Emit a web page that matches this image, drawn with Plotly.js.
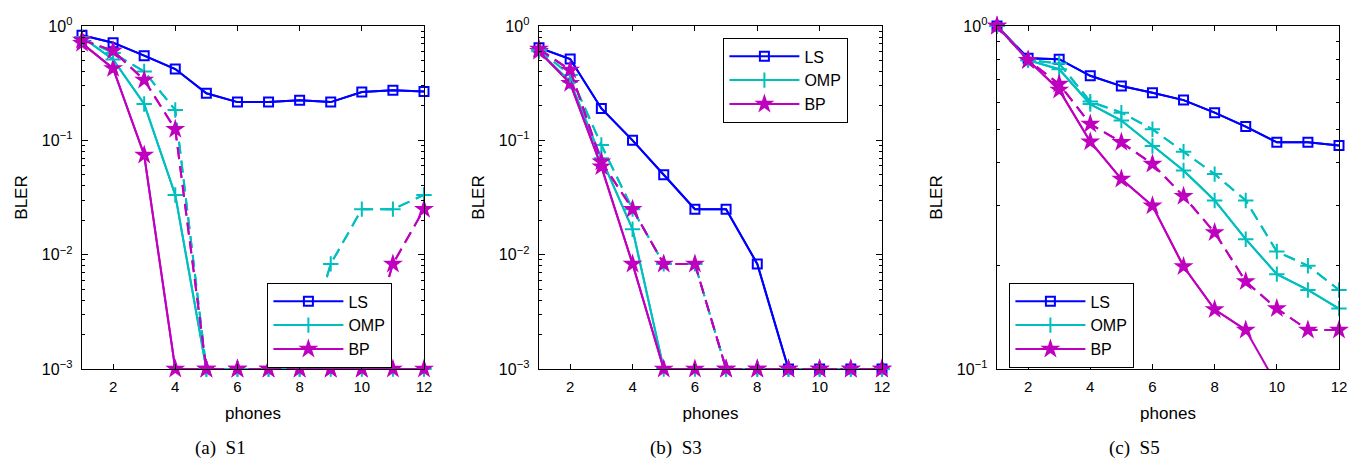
<!DOCTYPE html>
<html>
<head>
<meta charset="utf-8">
<script src="https://cdn.plot.ly/plotly-3.0.1.min.js"></script>
<style>html,body{margin:0;padding:0;background:#fff;}#chart{width:1359px;height:461px;}</style>
</head>
<body>
<div id="chart"></div>
<script>
// ---------- data ----------
const phones = [1, 2, 3, 4, 5, 6, 7, 8, 9, 10, 11, 12];
const xTickVals = [2, 4, 6, 8, 10, 12];
const seriesNames = ['LS', 'OMP', 'BP'];
const captions = ['(a)\u00a0 S1', '(b)\u00a0 S3', '(c)\u00a0 S5'];
const yTickVals = [0.001, 0.01, 0.1, 1];
const yTickText = ['10<sup>\u22123</sup>', '10<sup>\u22122</sup>', '10<sup>\u22121</sup>', '10<sup>0</sup>'];

// S1 (floor value 1e-3 = plotted zero)
const s1_LS   = [0.83, 0.715, 0.55, 0.42, 0.258, 0.216, 0.216, 0.224, 0.216, 0.265, 0.274, 0.267];
const s1_OMP  = [0.80, 0.51, 0.208, 0.0333, 0.001, 0.001, 0.001, 0.001, 0.001, 0.001, 0.001, 0.001];
const s1_BP   = [0.705, 0.426, 0.0744, 0.001, 0.001, 0.001, 0.001, 0.001, 0.001, 0.001, 0.001, 0.001];
const s1_OMPd = [0.78, 0.58, 0.40, 0.184, 0.001, 0.001, 0.001, 0.001, 0.0083, 0.025, 0.025, 0.0333];
const s1_BPd  = [0.755, 0.608, 0.337, 0.125, 0.001, 0.001, 0.001, 0.001, 0.001, 0.001, 0.0083, 0.025];

// S3
const s3_LS   = [0.646, 0.515, 0.19, 0.1, 0.05, 0.025, 0.025, 0.0083, 0.001, 0.001, 0.001, 0.001];
const s3_OMP  = [0.60, 0.326, 0.0696, 0.0167, 0.001, 0.001, 0.001, 0.001, 0.001, 0.001, 0.001, 0.001];
const s3_BP   = [0.60, 0.315, 0.0589, 0.0083, 0.001, 0.001, 0.001, 0.001, 0.001, 0.001, 0.001, 0.001];
const s3_OMPd = [0.62, 0.373, 0.091, 0.025, 0.0083, 0.0083, 0.001, 0.001, 0.001, 0.001, 0.001, 0.001];
const s3_BPd  = [0.63, 0.412, 0.065, 0.025, 0.0083, 0.0083, 0.001, 0.001, 0.001, 0.001, 0.001, 0.001];

// S5
const s5_LS   = [1.0, 0.805, 0.80, 0.716, 0.668, 0.639, 0.608, 0.559, 0.509, 0.458, 0.458, 0.448];
const s5_OMP  = [1.0, 0.795, 0.748, 0.592, 0.53, 0.447, 0.379, 0.31, 0.239, 0.189, 0.17, 0.150];
const s5_BP   = [1.0, 0.795, 0.651, 0.46, 0.358, 0.299, 0.199, 0.149, 0.13, 0.09, 0.075, 0.065];
const s5_OMPd = [1.0, 0.795, 0.778, 0.602, 0.559, 0.50, 0.43, 0.37, 0.31, 0.22, 0.20, 0.17];
const s5_BPd  = [1.0, 0.795, 0.677, 0.518, 0.458, 0.396, 0.319, 0.25, 0.18, 0.150, 0.130, 0.130];

// ---------- styling ----------
const W = 1359, H = 461;
const style = {
  LS:  {color: '#0000FF', symbol: 'square-open', size: 9,  lw: 2},
  OMP: {color: '#00BFBF', symbol: 'cross-thin',  size: 11, lw: 2},
  BP:  {color: '#BF00BF', symbol: 'star',        size: 15, lw: 0}
};
const panels = [
  {solid: [s1_LS, s1_OMP, s1_BP], dashed: {OMP: s1_OMPd, BP: s1_BPd}, yr: [-3, 0], px: [82, 424], leg: [267, 283], cap: 220},
  {solid: [s3_LS, s3_OMP, s3_BP], dashed: {OMP: s3_OMPd, BP: s3_BPd}, yr: [-3, 0], px: [539, 882], leg: [723, 38], cap: 676},
  {solid: [s5_LS, s5_OMP, s5_BP], dashed: {OMP: s5_OMPd, BP: s5_BPd}, yr: [-1, 0], px: [997, 1339], leg: [1009, 283], cap: 1134}
];
const TOP = 26, BOT = 369;
const FONT = 'Liberation Sans, Arial, Helvetica, sans-serif';

const traces = [];
const layout = {
  width: W, height: H,
  margin: {l: 0, r: 0, t: 0, b: 0},
  paper_bgcolor: '#fff', plot_bgcolor: '#fff',
  font: {family: FONT, size: 15, color: '#000'},
  annotations: [],
  showlegend: true
};

function addSeries(p, idx, name, ys, dashed) {
  const ax = idx === 0 ? '' : String(idx + 1);
  const st = style[name];
  const lo = Math.pow(10, p.yr[0]) * 0.999, hi = Math.pow(10, p.yr[1]) * 1.001;
  const inRange = ys.map(v => (v >= lo && v <= hi) ? v : null);
  const line = {color: st.color, width: 2, dash: dashed ? '12px,7px' : 'solid'};
  const common = {x: phones, xaxis: 'x' + ax, yaxis: 'y' + ax, hoverinfo: 'skip'};
  // full line (clipped at axes)
  traces.push(Object.assign({}, common, {y: ys, mode: 'lines', line: line, showlegend: false}));
  // in-range points with markers (not clipped)
  traces.push(Object.assign({}, common, {
    y: inRange, mode: 'lines+markers', name: name, cliponaxis: false,
    line: line, connectgaps: false,
    marker: {symbol: st.symbol, size: st.size, color: st.color,
             line: {color: st.color, width: st.lw}},
    showlegend: !dashed, legend: 'legend' + (idx === 0 ? '' : String(idx + 1))
  }));
}

panels.forEach((p, i) => {
  const ax = i === 0 ? '' : String(i + 1);
  addSeries(p, i, 'LS', p.solid[0], false);
  addSeries(p, i, 'OMP', p.solid[1], false);
  addSeries(p, i, 'BP', p.solid[2], false);
  addSeries(p, i, 'OMP', p.dashed.OMP, true);
  addSeries(p, i, 'BP', p.dashed.BP, true);

  layout['xaxis' + ax] = {
    domain: [p.px[0] / W, p.px[1] / W], anchor: 'y' + ax,
    range: [1, 12], tickmode: 'array', tickvals: xTickVals,
    ticks: 'inside', ticklen: 5, tickcolor: '#000', tickwidth: 1,
    showline: true, linecolor: '#000', linewidth: 1.4, mirror: 'ticks',
    showgrid: false, zeroline: false, ticklabelstandoff: 4,
    tickfont: {family: FONT, size: 15},
    title: {text: 'phones', font: {family: FONT, size: 17}, standoff: 12}
  };
  const yticks = yTickVals.filter(v => Math.log10(v) >= p.yr[0] - 1e-9);
  const ytext = yTickText.filter((t, k) => Math.log10(yTickVals[k]) >= p.yr[0] - 1e-9);
  const minorVals = [];
  for (let d = p.yr[0]; d < p.yr[1]; d++) for (let k = 2; k <= 9; k++) minorVals.push(k * Math.pow(10, d));
  layout['yaxis' + ax] = {
    domain: [1 - BOT / H, 1 - TOP / H], anchor: 'x' + ax,
    type: 'log', range: p.yr, tickmode: 'array', tickvals: yticks, ticktext: ytext,
    ticks: 'inside', ticklen: 6, tickcolor: '#000', tickwidth: 1,
    minor: {tickmode: 'array', tickvals: minorVals, ticks: 'inside', ticklen: 3, tickcolor: '#000', tickwidth: 1, showgrid: false},
    showline: true, linecolor: '#000', linewidth: 1.4, mirror: 'ticks',
    showgrid: false, zeroline: false, ticklabelstandoff: 5,
    tickfont: {family: FONT, size: 16},
    title: {text: 'BLER', font: {family: FONT, size: 17}, standoff: 10}
  };
  layout['legend' + ax] = {
    x: p.leg[0] / W, y: 1 - p.leg[1] / H, xanchor: 'left', yanchor: 'top',
    xref: 'paper', yref: 'paper',
    bgcolor: '#fff', bordercolor: '#000', borderwidth: 1.4,
    font: {family: FONT, size: 16}, itemwidth: 70, tracegroupgap: 0,
    itemclick: false, itemdoubleclick: false
  };
  layout.annotations.push({
    xref: 'paper', yref: 'paper', x: p.cap / W, y: 1 - 448 / H,
    xanchor: 'center', yanchor: 'middle', showarrow: false,
    text: captions[i], font: {family: 'Liberation Serif, Times New Roman, serif', size: 19}
  });
});

Plotly.newPlot('chart', traces, layout, {staticPlot: true, displayModeBar: false});
</script>
</body>
</html>
